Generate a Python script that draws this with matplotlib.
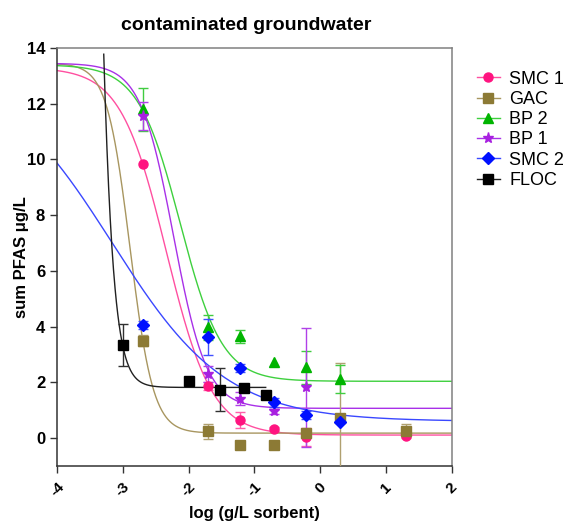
import numpy as np
import matplotlib
matplotlib.use("Agg")
import matplotlib.pyplot as plt
from matplotlib.lines import Line2D

plt.rcParams['font.family'] = ['Liberation Sans', 'DejaVu Sans']

# ---- data ----
series_names = ["SMC 1", "GAC", "BP 2", "BP 1", "SMC 2", "FLOC"]

smc1_x = [-2.7, -1.7, -1.22, -0.7, -0.22, 1.3]
smc1_y = [9.85, 1.88, 0.65, 0.33, 0.03, 0.08]
smc1_e = [0.0, 0.15, 0.27, 0.08, 0.33, 0.08]

gac_x = [-2.7, -1.7, -1.22, -0.7, -0.22, 0.3, 1.3]
gac_y = [3.5, 0.24, -0.23, -0.23, 0.17, 0.74, 0.27]
gac_e = [0.2, 0.27, 0.0, 0.0, 0.1, 1.95, 0.24]

bp2_x = [-2.7, -1.7, -1.22, -0.7, -0.22, 0.3]
bp2_y = [11.8, 3.98, 3.65, 2.72, 2.54, 2.12]
bp2_e = [0.78, 0.45, 0.23, 0.0, 0.6, 0.5]

bp1_x = [-2.7, -1.7, -1.22, -0.7, -0.22]
bp1_y = [11.55, 2.3, 1.42, 0.96, 1.82]
bp1_e = [0.5, 0.28, 0.22, 0.1, 2.15]

smc2_x = [-2.7, -1.7, -1.22, -0.7, -0.22, 0.3]
smc2_y = [4.06, 3.62, 2.52, 1.28, 0.82, 0.59]
smc2_e = [0.15, 0.65, 0.13, 0.15, 0.15, 0.0]

floc_x = [-3.0, -2.0, -1.52, -1.16, -0.83]
floc_y = [3.34, 2.04, 1.74, 1.8, 1.55]
floc_e = [0.74, 0.0, 0.78, 0.0, 0.0]

# fitted sigmoid parameters: top, bottom, logEC50, hill
smc1_fit = [13.3, 0.11, -2.34, 1.25]
gac_fit = [13.45, 0.18, -2.89, 2.46]
bp2_fit = [13.4, 2.04, -2.13, 1.36]
bp1_fit = [13.45, 1.07, -2.23, 1.72]
smc2_fit = [13.4, 0.6, -3.16, 0.5]
floc_fit = [100.0, 1.82, -3.55, 3.3]
fit_ranges = [(-4, 2), (-4, 2), (-4, 2), (-4, 2), (-4, 2), (-3.29, -0.83)]

xticks = [-4, -3, -2, -1, 0, 1, 2]
yticks = [0, 2, 4, 6, 8, 10, 12, 14]

# ---- style ----
marker_colors = ["#FF1480", "#8C7A35", "#00B400", "#A820E0", "#0010FF", "#000000"]
line_colors = ["#FF4FA0", "#A89660", "#3ED03E", "#A830E8", "#3A48FF", "#202020"]
err_colors = ["#FF5FAA", "#B0A070", "#40CC40", "#B040E8", "#4050FF", "#303030"]
markers = ["o", "s", "^", "*", "D", "s"]
msizes = [6.5, 6.5, 7, 8, 6, 6.5]

def sigmoid(x, p):
    top, bot, c, h = p
    return bot + (top - bot) / (1 + 10 ** ((x - c) * h))

fig = plt.figure(figsize=(5.65, 5.22), dpi=100)
ax = fig.add_axes([57 / 565, 1 - 466 / 522, (452 - 57) / 565, (466 - 48) / 522])

data = [(smc1_x, smc1_y, smc1_e, smc1_fit), (gac_x, gac_y, gac_e, gac_fit),
        (bp2_x, bp2_y, bp2_e, bp2_fit), (bp1_x, bp1_y, bp1_e, bp1_fit),
        (smc2_x, smc2_y, smc2_e, smc2_fit), (floc_x, floc_y, floc_e, floc_fit)]

for i, (xs, ys, es, fp) in enumerate(data):
    lo, hi = fit_ranges[i]
    xx = np.linspace(lo, hi, 600)
    ax.plot(xx, sigmoid(xx, fp), color=line_colors[i], lw=1.0, zorder=2)

for i, (xs, ys, es, fp) in enumerate(data):
    xs_e = [x for x, e in zip(xs, es) if e > 0]
    ys_e = [y for y, e in zip(ys, es) if e > 0]
    ee = [e for e in es if e > 0]
    ax.errorbar(xs_e, ys_e, yerr=ee, fmt='none', ecolor=err_colors[i],
                elinewidth=1.0, capsize=3.5, capthick=1.0, zorder=3)
    ax.plot(xs, ys, linestyle='none', marker=markers[i], ms=msizes[i],
            color=marker_colors[i], mec=marker_colors[i], zorder=4, clip_on=True)

ax.set_xlim(-4, 2)
ax.set_ylim(-1, 14)
ax.set_xticks(xticks)
ax.set_xticklabels([str(t) for t in xticks], rotation=45, fontweight='bold',
                   fontsize=11)
ax.set_yticks(yticks)
ax.set_yticklabels([str(t) for t in yticks], fontweight='bold', fontsize=12)
ax.tick_params(axis='both', direction='out', length=5, width=1, color='#333333')
ax.tick_params(axis='x', pad=5)
for lab in ax.get_xticklabels():
    lab.set_ha('center')
    lab.set_va('top')

ax.spines['left'].set_color('#333333')
ax.spines['bottom'].set_color('#333333')
ax.spines['top'].set_color('#808080')
ax.spines['right'].set_color('#808080')
for s in ax.spines.values():
    s.set_linewidth(1.1)

ax.set_xlabel("log (g/L sorbent)", fontweight='bold', fontsize=12, labelpad=5)
ax.set_ylabel("sum PFAS μg/L", fontweight='bold', fontsize=12, labelpad=-2)
ax.set_title("contaminated groundwater", fontweight='bold', fontsize=14, pad=13,
             x=0.48)

handles = []
for i, name in enumerate(series_names):
    handles.append(Line2D([0], [0], color=line_colors[i], lw=1.0, marker=markers[i],
                          ms=msizes[i], mfc=marker_colors[i], mec=marker_colors[i]))
fig.legend(handles, series_names, loc='upper left',
           bbox_to_anchor=(464 / 565, 1 - 58 / 522), frameon=False, fontsize=13,
           handlelength=1.3, handletextpad=0.5, labelspacing=0.18, borderpad=0.2)

fig.savefig("out.png", dpi=100)
